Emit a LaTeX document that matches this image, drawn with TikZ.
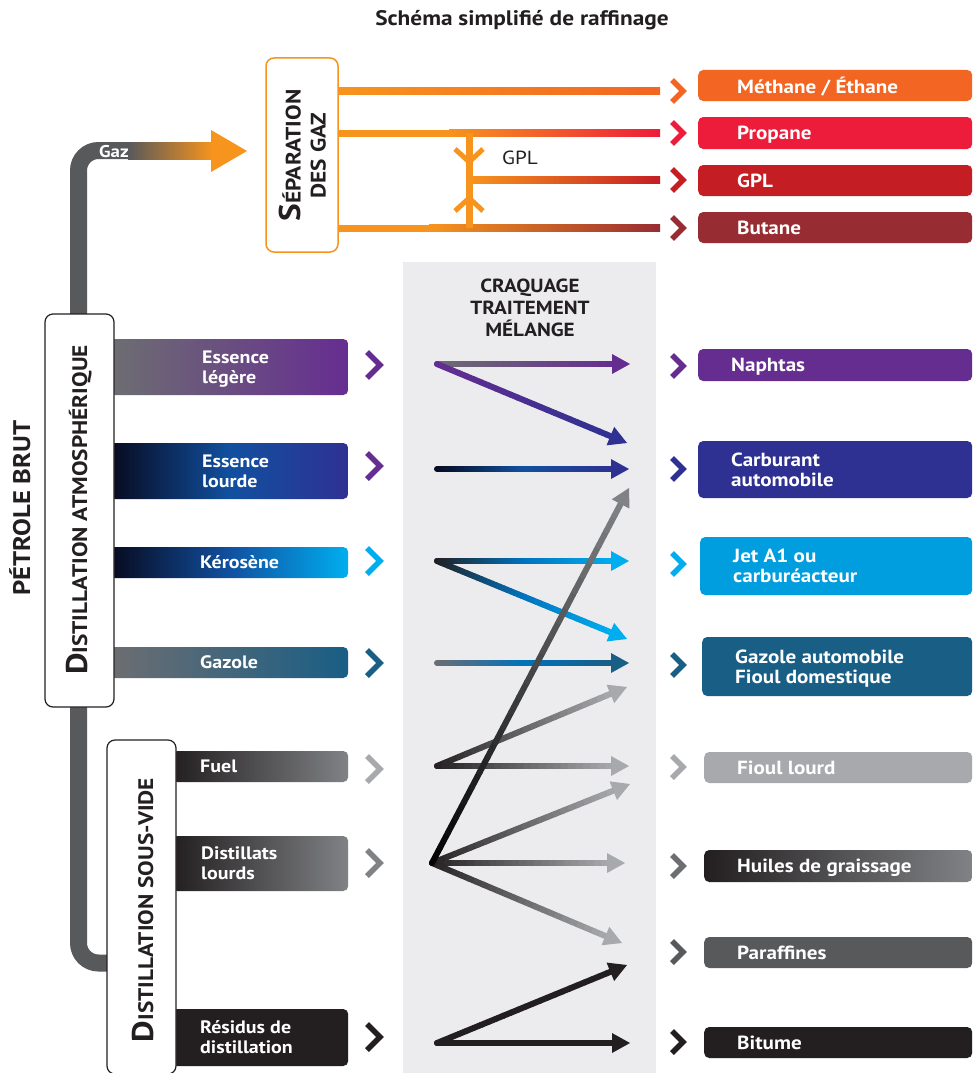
\documentclass[tikz,border=0pt]{standalone}
\usepackage{fontspec}
\setmainfont{PT Sans}[FakeStretch=1.11]
\usetikzlibrary{calc}
\definecolor{cOrange}{HTML}{F7941D}
\definecolor{cMeth}{HTML}{F26522}
\definecolor{cProp}{HTML}{ED1C3A}
\definecolor{cGPL}{HTML}{C41E24}
\definecolor{cBut}{HTML}{972D32}
\definecolor{cPipe}{HTML}{58595B}
\definecolor{cPurple}{HTML}{662D91}
\definecolor{cIndigo}{HTML}{2E3192}
\definecolor{cNavy}{HTML}{070A1E}
\definecolor{cMidBlue}{HTML}{1150A0}
\definecolor{cBlue}{HTML}{0072BC}
\definecolor{cCyan}{HTML}{00AEEF}
\definecolor{cJet}{HTML}{009DDF}
\definecolor{cPetrol}{HTML}{195E85}
\definecolor{cGrayA}{HTML}{6D6E71}
\definecolor{cLight}{HTML}{A7A9AC}
\definecolor{cMid}{HTML}{808285}
\definecolor{cBlack}{HTML}{231F20}
\definecolor{cBand}{HTML}{ECECEE}

\newcommand\gradline[4]{%
  \foreach \gi in {0,...,23}{%
    \pgfmathsetmacro\gta{\gi/24}%
    \pgfmathsetmacro\gtb{(\gi+1)/24}%
    \pgfmathtruncatemacro\gpc{100-(\gi+0.5)*100/24}%
    \draw[line width=6pt,line cap=round,draw=#3!\gpc!#4] ($(#1)!\gta!(#2)$) -- ($(#1)!\gtb!(#2)$);
  }}
\newcommand\arrowto[4]{%
  \coordinate (aE) at ($(#2)!14pt!(#1)$);
  \gradline{#1}{aE}{#3}{#4}
  \fill[#4] (#2) -- ($(#2)!18pt!(#1)!10pt!90:(#1)$) -- ($(#2)!18pt!(#1)!10pt!-90:(#1)$) -- cycle;
}
\newcommand\arrowthree[5]{%
  \coordinate (aE) at ($(#2)!14pt!(#1)$);
  \coordinate (aM) at ($(#1)!0.5!(aE)$);
  \gradline{#1}{aM}{#3}{#4}
  \gradline{aM}{aE}{#4}{#5}
  \fill[#5] (#2) -- ($(#2)!18pt!(#1)!10pt!90:(#1)$) -- ($(#2)!18pt!(#1)!10pt!-90:(#1)$) -- cycle;
}
\newcommand\chev[4]{%
  \draw[draw=#4, line width=5.5pt, line join=miter] (#1-7,#2-#3) -- (#1+#3-7,#2) -- (#1-7,#2+#3);}

\begin{document}
\begin{tikzpicture}[x=1pt,y=-1pt,
  every node/.style={inner sep=0pt},
  bar/.style={rounded corners=5pt, anchor=west},
  outbox/.style={rounded corners=5pt, anchor=west, minimum width=274pt},
  lbl/.style={anchor=west, text=white, align=left, text depth=0pt, font=\bfseries\fontsize{18}{20}\selectfont},
  olbl/.style={anchor=west, text=white, align=left, text depth=0pt, font=\bfseries\fontsize{19}{20}\selectfont},
  colbox/.style={draw=cBlack, line width=1.2pt, fill=white, rounded corners=8pt},
  pipe/.style={line width=17pt, draw=cPipe, rounded corners=20pt}]
\useasboundingbox (0,0) rectangle (973,1073);
\fill[white] (0,0) rectangle (973,1073);
\fill[cBand] (403,262) rectangle (656,1073);

\node[text=cBlack, font=\bfseries\fontsize{21}{21}\selectfont] (title) at (522,20) {Schéma simplifié de raffinage};

% pipes
\coordinate (pTop) at (78.5,316);
\coordinate (gazEnd) at (135,150.5);
\coordinate (pBot) at (78.5,705);
\coordinate (svIn) at (110,963);
\draw[pipe] (pTop) |- (gazEnd);
\draw[pipe] (pBot) |- (svIn);
\shade[left color=cPipe, right color=cOrange] (128,142) rectangle (213,159);
\fill[cOrange] (211,130) -- (247,151) -- (211,172) -- cycle;
\node[anchor=west, text=white, text depth=0pt, font=\bfseries\fontsize{17}{17}\selectfont] (gaz) at (99,151) {Gaz};

% gas separation
\node[draw=cOrange, line width=1.5pt, fill=white, rounded corners=8pt, minimum width=72pt, minimum height=194pt] (sep) at (302,155) {};
\node[rotate=90, align=center, font=\bfseries\fontsize{21}{25}\selectfont, text=cBlack] (septxt) at (302.5,155.5) {{\fontsize{30}{25}\selectfont S}ÉPARATION\\DES GAZ};
\shade[left color=cOrange, right color=cMeth] (338,87.5) rectangle (660,94.5);
\fill[cOrange] (338,129.5) rectangle (450,136.5);
\shade[left color=cOrange, right color=cProp] (449,129.5) rectangle (660,136.5);
\shade[left color=cOrange, right color=cGPL] (469,176.5) rectangle (660,183.5);
\fill[cOrange] (338,224.5) rectangle (430,231.5);
\shade[left color=cOrange, right color=cBut] (429,224.5) rectangle (660,231.5);
\fill[cOrange] (466,133) rectangle (472.5,228);
\draw[cOrange, line width=5pt] (455,149) -- (469.2,162) -- (483,149);
\draw[cOrange, line width=5pt] (455,211) -- (469.2,198) -- (483,211);
\node[anchor=west, text=cBlack, font=\fontsize{19}{19}\selectfont] (gpllbl) at (502,158) {GPL};

% gas outputs
\chev{679}{91}{11}{cMeth}
\chev{679}{133}{11}{cProp}
\chev{679}{180}{11}{cGPL}
\chev{679}{228}{11}{cBut}
\node[outbox, minimum height=31pt, fill=cMeth] (oM) at (698,85.5) {};
\node[olbl] at (737,85.5) {Méthane / Éthane};
\node[outbox, minimum height=32pt, fill=cProp] (oP) at (698,133) {};
\node[olbl] at (737,133) {Propane};
\node[outbox, minimum height=31pt, fill=cGPL] (oG) at (698,180.5) {};
\node[olbl] at (737,180.5) {GPL};
\node[outbox, minimum height=31pt, fill=cBut] (oB) at (698,227.5) {};
\node[olbl] at (737,227.5) {Butane};

% atmospheric bars
\node[bar, minimum width=238pt, minimum height=56pt, left color=cGrayA, right color=cPurple] (bEL) at (110,367) {};
\node[bar, minimum width=238pt, minimum height=56pt, left color=cNavy, right color=cIndigo, middle color=cMidBlue] (bELo) at (110,471) {};
\node[bar, minimum width=238pt, minimum height=31pt, left color=cNavy, right color=cCyan, middle color=cMidBlue] (bK) at (110,562.5) {};
\node[bar, minimum width=238pt, minimum height=31pt, left color=cGrayA, right color=cPetrol] (bGz) at (110,662.5) {};
\node[lbl] at (202,367) {Essence\\légère};
\node[lbl] at (202,471) {Essence\\lourde};
\node[lbl] at (200,562.5) {Kérosène};
\node[lbl] at (200,662.5) {Gazole};

% vacuum bars
\node[bar, minimum width=176pt, minimum height=31pt, left color=cBlack, right color=cMid] (bF) at (172,766.5) {};
\node[bar, minimum width=176pt, minimum height=55pt, left color=cBlack, right color=cMid] (bD) at (172,863.5) {};
\node[bar, minimum width=176pt, minimum height=57pt, fill=cBlack] (bR) at (172,1037.5) {};
\node[lbl] at (200,766.5) {Fuel};
\node[lbl] at (201,863.5) {Distillats\\lourds};
\node[lbl] at (200,1037.5) {Résidus de\\distillation};

% column boxes
\node[colbox, minimum width=69pt, minimum height=393pt] (dAtm) at (79.5,510.5) {};
\node[rotate=90, anchor=base, text=cBlack, font=\bfseries\fontsize{21}{21}\selectfont] (atmtxt) at (87,510) {{\fontsize{30}{30}\selectfont D}ISTILLATION ATMOSPHÉRIQUE};
\node[colbox, minimum width=69pt, minimum height=334pt] (dSV) at (141.5,907) {};
\node[rotate=90, anchor=base, text=cBlack, font=\bfseries\fontsize{21}{21}\selectfont] (svtxt) at (153,910) {{\fontsize{30}{30}\selectfont D}ISTILLATION SOUS-VIDE};
\node[rotate=90, anchor=base, text=cBlack, font=\bfseries\fontsize{24}{24}\selectfont] (brut) at (30,508) {PÉTROLE BRUT};

% left chevrons
\chev{374}{365}{13}{cPurple}
\chev{374}{466}{13}{cPurple}
\chev{374}{561}{13}{cCyan}
\chev{374}{663}{13}{cPetrol}
\chev{374}{769}{13}{cLight}
\chev{374}{863}{13}{cMid}
\chev{374}{1037}{13}{cBlack}

% middle column
\node[align=center, text=cBlack, font=\bfseries\fontsize{19}{22}\selectfont] (craq) at (530,308) {CRAQUAGE\\TRAITEMENT\\MÉLANGE};
\coordinate (sEL) at (437,364);
\coordinate (sELo) at (437,469);
\coordinate (sK) at (437,561);
\coordinate (sG) at (437,663);
\coordinate (sF) at (437,766);
\coordinate (sD) at (432,863);
\coordinate (sR) at (437,1043);
\coordinate (tN) at (630,364);
\coordinate (tC1) at (627,443);
\coordinate (tC2) at (629,469);
\coordinate (tC3) at (629,488);
\coordinate (tJ) at (629,561);
\coordinate (tJ2) at (627,639);
\coordinate (tGz) at (629,663);
\coordinate (tFa) at (627,687);
\coordinate (tFb) at (629,766);
\coordinate (tDa) at (630,784);
\coordinate (tDb) at (625,863);
\coordinate (tDc) at (622,943);
\coordinate (tRa) at (627,965);
\coordinate (tRb) at (630,1043);

\arrowto{sEL}{tN}{cGrayA}{cPurple}
\arrowto{sEL}{tC1}{cPurple}{cIndigo}
\arrowthree{sELo}{tC2}{cNavy}{cMidBlue}{cIndigo}
\arrowthree{sK}{tJ2}{cBlack}{cBlue}{cCyan}
\arrowthree{sK}{tJ}{cBlack}{cBlue}{cCyan}
\arrowthree{sG}{tGz}{cGrayA}{cBlue}{cPetrol}
\arrowto{sF}{tFa}{cBlack}{cLight}
\arrowto{sF}{tFb}{cBlack}{cLight}
\arrowto{sD}{tDa}{cBlack}{cLight}
\arrowto{sD}{tDb}{cBlack}{cLight}
\arrowto{sD}{tDc}{cBlack}{cLight}
\arrowto{sR}{tRa}{cBlack}{cBlack}
\arrowto{sR}{tRb}{cBlack}{cBlack}
\arrowto{sD}{tC3}{black}{cMid}

% right outputs
\chev{679}{366}{11}{cPurple}
\chev{679}{469}{11}{cIndigo}
\chev{679}{564}{11}{cCyan}
\chev{679}{665}{11}{cPetrol}
\chev{679}{767}{11}{cLight}
\chev{679}{866}{11}{cGrayA}
\chev{679}{952}{11}{cPipe}
\chev{679}{1042}{11}{cBlack}
\node[outbox, minimum height=32pt, fill=cPurple] (oN) at (698,365) {};
\node[olbl] at (731,365) {Naphtas};
\node[outbox, minimum height=57pt, fill=cIndigo] (oC) at (698,469.5) {};
\node[olbl] at (731,469.5) {Carburant\\automobile};
\node[outbox, minimum width=272pt, minimum height=58pt, fill=cJet] (oJ) at (700,566) {};
\node[olbl] at (733,566) {Jet A1 ou\\carburéacteur};
\node[outbox, minimum width=270pt, minimum height=59pt, fill=cPetrol] (oGz) at (702,666.5) {};
\node[olbl] at (735,666.5) {Gazole automobile\\Fioul domestique};
\node[outbox, minimum width=268pt, minimum height=31pt, fill=cLight] (oFL) at (704,767.5) {};
\node[olbl] at (737,767.5) {Fioul lourd};
\node[outbox, minimum width=268pt, minimum height=32pt, left color=cBlack, right color=cMid] (oH) at (704,866) {};
\node[olbl] at (737,866) {Huiles de graissage};
\node[outbox, minimum width=268pt, minimum height=31pt, fill=cPipe] (oPa) at (704,952.5) {};
\node[olbl] at (737,952.5) {Paraffines};
\node[outbox, minimum width=268pt, minimum height=31pt, fill=cBlack] (oBi) at (704,1042.5) {};
\node[olbl] at (737,1042.5) {Bitume};
\end{tikzpicture}
\end{document}
